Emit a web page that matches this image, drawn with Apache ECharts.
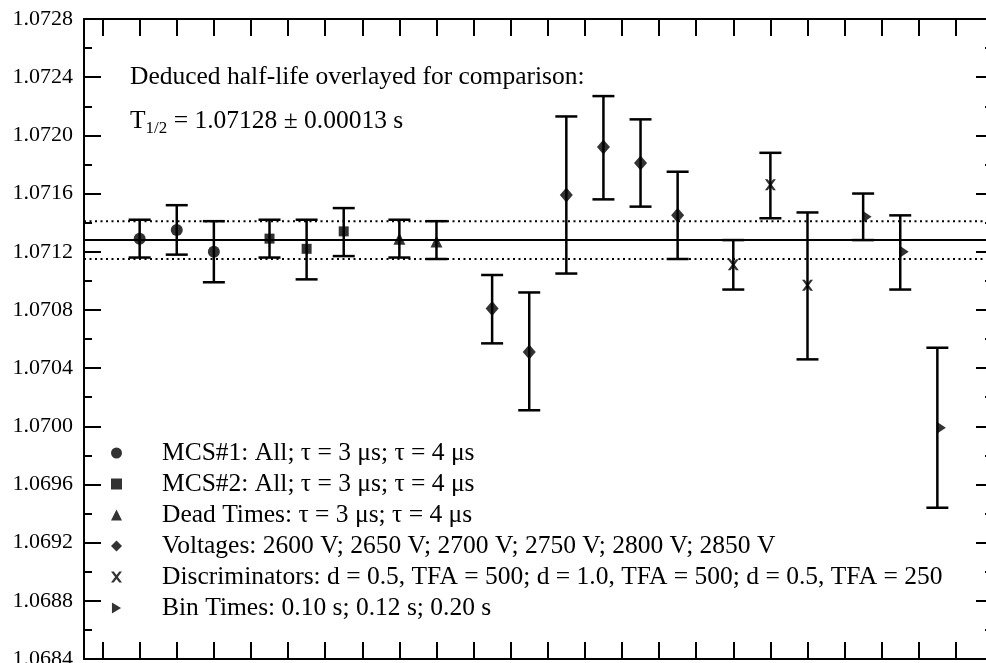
<!DOCTYPE html>
<html lang="en">
<head>
  <meta charset="UTF-8">
  <title>Half-life comparison</title>
  <script src="https://cdn.jsdelivr.net/npm/echarts@6/dist/echarts.min.js"></script>
  <style>
    html, body { margin: 0; padding: 0; background: #fff; }
    #chart { width: 986px; height: 663px; }
  </style>
</head>
<body>
  <div id="chart"></div>
  <script>
    // position on the x scale, value, lower and upper end of the error bar
    var mcs1X = [1, 2, 3]
    var mcs1Y = [1.07129, 1.07135, 1.07120]
    var mcs1Lo = [1.07116, 1.07118, 1.07099]
    var mcs1Hi = [1.07142, 1.07152, 1.07141]

    var mcs2X = [4.5, 5.5, 6.5]
    var mcs2Y = [1.07129, 1.07122, 1.07134]
    var mcs2Lo = [1.07116, 1.07101, 1.07117]
    var mcs2Hi = [1.07142, 1.07142, 1.07150]

    var deadX = [8, 9]
    var deadY = [1.07129, 1.07127]
    var deadLo = [1.07116, 1.07115]
    var deadHi = [1.07142, 1.07141]

    var voltX = [10.5, 11.5, 12.5, 13.5, 14.5, 15.5]
    var voltY = [1.07081, 1.07051, 1.07159, 1.07192, 1.07181, 1.07145]
    var voltLo = [1.07057, 1.07011, 1.07105, 1.07156, 1.07151, 1.07115]
    var voltHi = [1.07104, 1.07092, 1.07213, 1.07227, 1.07211, 1.07175]

    var discX = [17, 18, 19]
    var discY = [1.07111, 1.07166, 1.07097]
    var discLo = [1.07094, 1.07143, 1.07046]
    var discHi = [1.07128, 1.07188, 1.07147]

    var binX = [20.5, 21.5, 22.5]
    var binY = [1.07144, 1.07120, 1.06999]
    var binLo = [1.07128, 1.07094, 1.06944]
    var binHi = [1.07160, 1.07145, 1.07054]

    var halfLife = 1.07128
    var halfLifeErr = 0.00013

    var names = [
      'MCS#1: All; τ = 3 μs; τ = 4 μs',
      'MCS#2: All; τ = 3 μs; τ = 4 μs',
      'Dead Times: τ = 3 μs; τ = 4 μs',
      'Voltages: 2600 V; 2650 V; 2700 V; 2750 V; 2800 V; 2850 V',
      'Discriminators: d = 0.5, TFA = 500; d = 1.0, TFA = 500; d = 0.5, TFA = 250',
      'Bin Times: 0.10 s; 0.12 s; 0.20 s'
    ]

    var groups = [
      { x: mcs1X, y: mcs1Y, lo: mcs1Lo, hi: mcs1Hi, symbol: 'circle', size: 12 },
      { x: mcs2X, y: mcs2Y, lo: mcs2Lo, hi: mcs2Hi, symbol: 'rect', size: 10 },
      { x: deadX, y: deadY, lo: deadLo, hi: deadHi, symbol: 'triangle', size: 12 },
      { x: voltX, y: voltY, lo: voltLo, hi: voltHi, symbol: 'diamond', size: [13, 15] },
      { x: discX, y: discY, lo: discLo, hi: discHi, symbol: 'path://M0,0L2.5,0L5,3.2L7.5,0L10,0L6.3,5L10,10L7.5,10L5,6.8L2.5,10L0,10L3.7,5Z', size: 11 },
      { x: binX, y: binY, lo: binLo, hi: binHi, symbol: 'path://M0,0L10,6L0,12Z', size: [9, 12], offset: [4, 0] }
    ]

    // x scale runs from -0.5 to 24; ticks sit on the whole numbers 0..23
    var xMin = -0.5
    var xMax = 24
    var tickSlots = []
    for (var t = xMin; t <= xMax; t += 0.5) tickSlots.push(String(t))

    var font = 'Liberation Serif'
    var black = '#000'

    function renderBar (params, api) {
      var top = api.coord([api.value(0), api.value(2)])
      var bot = api.coord([api.value(0), api.value(1)])
      var half = 11
      var style = { stroke: black, lineWidth: 2.5 }
      return {
        type: 'group',
        children: [
          { type: 'line', shape: { x1: top[0], y1: top[1], x2: bot[0], y2: bot[1] }, style: style },
          { type: 'line', shape: { x1: top[0] - half, y1: top[1], x2: top[0] + half, y2: top[1] }, style: style },
          { type: 'line', shape: { x1: bot[0] - half, y1: bot[1], x2: bot[0] + half, y2: bot[1] }, style: style }
        ]
      }
    }

    var series = []

    // deduced half-life and its band, drawn across the whole plot
    function levelLine (v, type) {
      return {
        type: 'line',
        data: [[xMin, v], [xMax, v]],
        showSymbol: false,
        silent: true,
        z: 2,
        lineStyle: { color: black, width: 2, type: type }
      }
    }
    series.push(levelLine(halfLife, 'solid'))
    series.push(levelLine(halfLife + halfLifeErr, [2, 3.5]))
    series.push(levelLine(halfLife - halfLifeErr, [2, 3.5]))

    var barData = []
    groups.forEach(function (g) {
      g.x.forEach(function (x, j) { barData.push([x, g.lo[j], g.hi[j]]) })
    })
    series.push({
      type: 'custom',
      renderItem: renderBar,
      encode: { x: 0, y: [1, 2] },
      silent: true,
      z: 4,
      data: barData
    })

    groups.forEach(function (g, i) {
      series.push({
        name: names[i],
        type: 'scatter',
        symbol: g.symbol,
        symbolSize: g.size,
        symbolOffset: g.offset || [0, 0],
        itemStyle: { color: black },
        z: 5,
        data: g.x.map(function (x, j) { return [x, g.y[j]] })
      })
    })

    function tickAxis (pos) {
      return {
        type: 'category',
        position: pos,
        data: tickSlots,
        boundaryGap: false,
        axisLine: { onZero: false, lineStyle: { color: black, width: 2 } },
        axisTick: {
          inside: true,
          length: 17,
          lineStyle: { color: black, width: 2 },
          interval: function (index) { return index % 2 === 1 }
        },
        axisLabel: { show: false },
        splitLine: { show: false }
      }
    }

    function valueAxis (pos, labels) {
      return {
        type: 'value',
        position: pos,
        min: 1.0684,
        max: 1.0728,
        interval: 0.0004,
        axisLine: { show: true, onZero: false, lineStyle: { color: black, width: 2 } },
        axisTick: { show: true, inside: true, length: 17, lineStyle: { color: black, width: 2 } },
        minorTick: { show: true, splitNumber: 2, length: 8, lineStyle: { color: black, width: 2 } },
        splitLine: { show: false },
        minorSplitLine: { show: false },
        axisLabel: {
          show: labels,
          margin: 11,
          color: black,
          fontFamily: font,
          fontSize: 22,
          formatter: function (v) { return v.toFixed(4) }
        }
      }
    }

    var chart = echarts.init(document.getElementById('chart'))
    chart.setOption({
      backgroundColor: '#fff',
      animation: false,
      grid: { left: 84, top: 19, width: 909, height: 640, outerBoundsMode: 'none', containLabel: false },
      xAxis: [
        { type: 'value', min: xMin, max: xMax, show: false, axisLine: { onZero: false } },
        tickAxis('bottom'),
        tickAxis('top')
      ],
      yAxis: [valueAxis('left', true), valueAxis('right', false)],
      legend: {
        orient: 'vertical',
        left: 106,
        top: 435,
        itemWidth: 11,
        itemHeight: 11,
        itemGap: 5,
        selectedMode: false,
        textStyle: { color: black, fontFamily: font, fontSize: 25.5, lineHeight: 24, padding: [0, 0, 0, 35] },
        data: names.map(function (n, i) {
          return { name: n, icon: groups[i].symbol }
        })
      },
      graphic: [
        {
          type: 'text',
          x: 130,
          y: 77,
          style: {
            text: 'Deduced half-life overlayed for comparison:',
            font: '25.5px "Liberation Serif"',
            fill: black,
            verticalAlign: 'middle'
          }
        },
        {
          type: 'text',
          x: 130,
          y: 121,
          style: {
            text: '{t|T}{s|1/2}{t| = ' + halfLife.toFixed(5) + ' ± ' + halfLifeErr.toFixed(5) + ' s}',
            verticalAlign: 'middle',
            fill: black,
            rich: {
              t: { fontFamily: font, fontSize: 25.5, fill: black },
              s: { fontFamily: font, fontSize: 17, fill: black, padding: [16, 0, 0, 0] }
            }
          }
        }
      ],
      series: series
    })
  </script>
</body>
</html>
